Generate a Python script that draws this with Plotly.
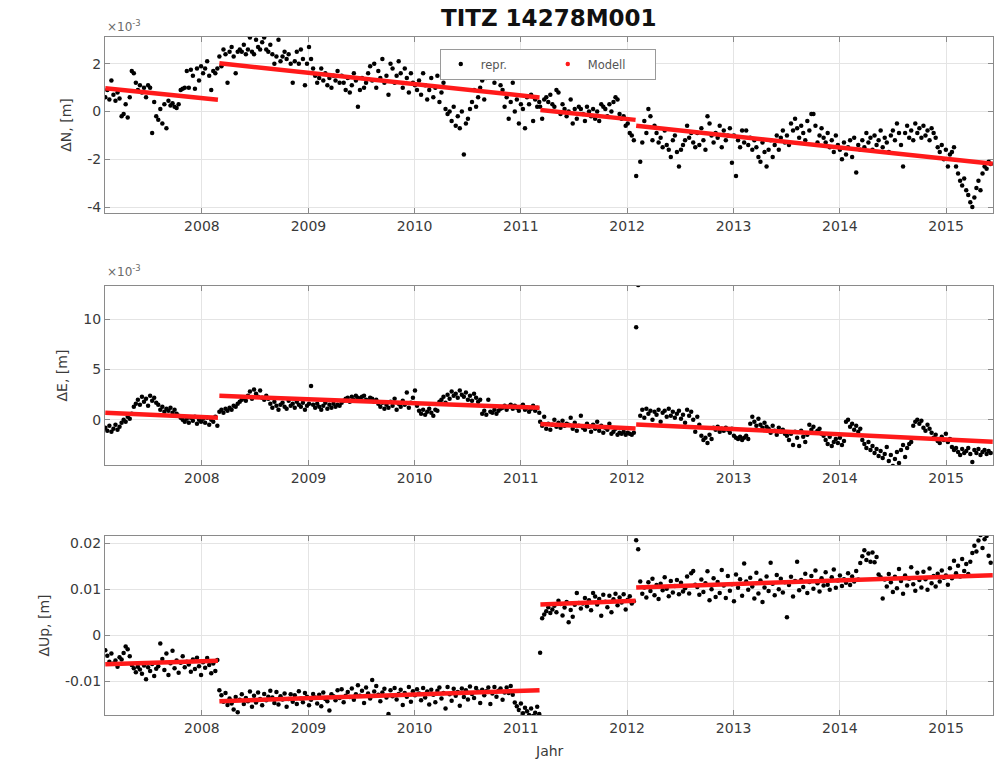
import numpy as np
import pandas as pd
import plotly.graph_objects as go

# ---------------- data ----------------
seg_starts = ['2007-02-03', '2008-03-01', '2011-03-08', '2012-02-01']

# ΔN (x1e-3 m), per segment
n_seg1 = [0.6, 0.9, 0.5, 1.3, 0.7, 0.45, 0.8, 0.55,
          -0.2, -0.1, 0.3, -0.25, 0.6, 1.7, 1.6,
          1.2, 0.9, 1.1, 0.8, 1.0, 0.6, 1.1, 1.0,
          -0.9,
          0.4, -0.2, -0.35, 0.1, -0.5,
          0.3, -0.7, 0.45, 0.25, 0.35, 0.2, 0.15, 0.3,
          0.9, 0.95, 1.0, 1.7, 1.0, 1.75, 1.5, 0.95, 1.8, 1.3, 1.9, 1.6,
          1.8, 2.1, 1.5, 0.9, 1.7, 1.6, 1.8]
n_seg2 = [2.3, 1.9, 2.6, 2.4, 1.2, 2.5, 2.7, 2.3, 1.6, 2.5, 2.6,
          2.5, 2.8, 2.4, 2.6, 3.1, 2.5, 2.4, 3.0, 2.7, 2.6, 2.9, 3.1, 2.6, 2.5, 2.8, 2.4, 2.0, 2.3, 3.0,
          2.1, 2.3, 2.5, 2.2, 2.4, 2.0, 1.2, 2.1, 2.5, 2.0,
          2.6, 2.2, 1.1, 2.0, 2.7, 2.2, 1.8,
          1.5, 1.2, 1.4, 1.8, 1.3, 1.6, 1.1, 1.4, 1.0, 1.5, 1.3, 1.7, 1.2,
          1.5, 1.2, 0.9, 1.4, 0.8, 1.1, 1.6, 1.3, 0.2, 0.9, 1.4, 1.0, 1.2,
          1.6, 1.9, 1.3, 2.0, 1.0, 1.7, 1.4, 2.2, 1.2, 1.5, 0.7, 2.0, 1.8, 1.2, 1.5, 2.1, 1.6,
          1.0, 1.8, 1.4, 0.8, 1.6, 1.2, 1.1, 0.9,
          1.3, 0.7, 1.6, 1.1, 0.5, 0.9, 1.4, 0.6, 1.0, 1.5, 0.4, 0.8, 1.2,
          0.1, -0.1, 0.0, -0.4, 0.2, -0.6, -0.2, -0.7, 0.0, -1.8, -0.5, -0.3, 0.1,
          0.4, 0.9, 0.2, 0.6, 1.0, 1.3, 0.5, 1.4,
          1.6, 1.8, 1.5, 1.2, 1.7, 1.4, 1.1, 0.9,
          0.2, 0.6, -0.3, 0.4, 1.2, 0.0, 0.5, -0.5, 0.3, 0.1, -0.7, 0.6, 0.3, 0.7, -0.4, 0.5, 0.2, 0.4]
n_seg3 = [0.2, -0.3, 0.5, 0.6, 0.4, 0.7, 0.3, 0.2, 0.9, 0.8, -0.1, 0.3, 0.1,
          -0.2, 0.0, 0.5, -0.5, 0.1, -0.3, 0.2, 0.1, -0.1, -0.4, 0.2, 0.0, -0.2, 0.1, -0.3, 0.0, -0.4, 0.3, 0.2,
          0.1, -0.2, 0.3, 0.0, 0.4, 0.6, 0.5, -0.1, -0.3, -0.2, -0.6, -0.5, -0.9, -1.0, -1.2]
n_seg4 = [-2.7, -4.4, -2.1, -1.3, -0.4, -0.9, 0.1,
          -0.2, -1.2, -0.6, -0.9, -1.3, -1.1, -1.5, -0.8, -1.4, -1.6, -1.9, -1.2, -1.0, -1.7,
          -2.3, -1.6, -1.4, -1.2, -0.6, -1.1, -0.9, -1.3, -1.5,
          -0.9, -1.4, -0.7, -1.2, -1.6, -0.2, -0.5, -1.0, -1.3, -0.9, -1.1, -0.6, -1.5, -0.8, -1.2, -1.0, -0.7,
          -2.15, -1.0, -2.7, -1.2, -1.5, -0.8, -1.3, -0.8, -1.4, -1.1, -1.6, -1.2,
          -1.5, -1.9, -2.1, -1.3, -1.7, -2.3, -1.6, -1.2, -1.9, -1.4, -1.0, -1.6, -1.1, -0.8, -1.3, -1.0, -1.4,
          -0.5, -0.8, -0.3, -0.7, -1.1, -0.6, -0.9, -1.2, -0.4, -0.8, -0.1, -0.1, -0.6, -1.3, -1.0, -0.7,
          -1.1, -1.3, -0.9, -1.5, -1.2, -1.7, -1.0, -1.4, -1.6, -2.0, -1.3, -1.8, -1.5, -1.2, -1.9, -1.1, -2.55, -1.4, -1.6,
          -1.2, -1.5, -0.9, -1.3, -1.1, -1.6, -1.0, -1.4, -1.2, -0.8, -1.5, -1.1, -1.3, -1.7, -1.0, -0.8, -1.2, -0.5, -0.9, -1.4,
          -2.3, -0.9, -0.6, -1.1, -0.8, -1.2, -0.5, -0.9, -0.7, -1.1, -0.6, -1.0, -0.8, -1.2, -0.7, -0.9, -1.1, -1.5, -1.7,
          -1.4, -2.0, -1.6, -2.3, -1.8, -1.7, -1.5,
          -2.3, -2.6, -2.9, -3.1, -2.8, -3.3, -3.5, -3.8, -4.0, -3.6, -3.2,
          -2.9, -3.3, -2.6, -2.3, -2.4, -2.1, -2.2]

# ΔE (x1e-3 m)
e_seg1 = [-0.8, -1.1, -0.6, -1.2, -0.9, -0.5, -1.0, -0.7, -0.3,
          0.0, -0.2, 0.3, 0.1, 0.6,
          1.3, 1.6, 2.0, 1.5, 2.3, 1.8, 2.1, 1.4, 2.4, 1.9, 2.2, 1.7, 1.5,
          1.0, 1.3, 0.8, 1.1, 0.9, 1.2, 0.7, 1.0, 0.6, 0.4,
          0.2, 0.0, -0.2, 0.1, -0.3, 0.2, -0.1, 0.3, -0.4, 0.0, -0.2, 0.1, -0.3, 0.2, -0.5, 0.0, -0.2, 0.3, -0.6]
e_seg2 = [0.8, 1.0, 0.7, 1.1, 0.9, 1.2, 1.0, 1.4, 1.3, 1.6, 1.8,
          2.0, 2.2, 1.9, 2.4, 2.8, 2.1, 3.0, 2.6, 2.3, 2.9, 2.2, 2.0, 2.4, 2.1,
          1.6, 1.2, 1.8, 1.4, 1.0, 1.5, 1.7, 1.3, 1.1, 1.9, 1.4, 1.6, 1.2, 1.8, 1.5, 1.3, 1.7, 1.0, 1.4, 1.6,
          3.35,
          1.5, 1.2, 1.6, 1.3, 1.0, 1.4, 1.7, 1.1, 1.5, 1.2, 1.6, 1.3, 1.5, 1.4, 1.7,
          1.9, 2.1, 2.2, 1.8, 2.3, 2.0, 2.4, 2.2, 2.1, 2.3, 2.4, 2.0, 1.9, 2.2, 2.1, 1.8, 2.0,
          1.6, 1.3, 1.7, 1.1, 1.5, 1.2, 1.8, 1.4, 2.1, 1.0, 1.6, 1.3, 1.9, 1.5, 2.7, 1.2, 1.7, 2.2, 2.9, 1.4,
          0.9, 0.6, 1.0, 0.5, 0.8, 1.1, 0.7, 0.4, 1.0, 0.9,
          1.8, 2.0, 2.3, 1.7, 2.5, 2.1, 2.8, 2.4, 2.6, 2.2, 2.9, 2.5, 2.3, 2.7, 2.0, 2.4, 1.9, 2.6, 2.2, 1.8, 2.0,
          0.6, 0.9, 0.5, 2.0, 0.8, 0.7, 1.0, 0.6, 0.9, 1.1,
          1.2, 1.4, 1.0, 1.3, 1.5, 1.1, 1.4, 1.2, 0.9, 1.3, 1.5, 1.0, 1.2, 0.8, 1.1, 1.4, 0.9, 1.2, 0.7]
e_seg3 = [-0.2, -0.6, 0.3, -0.9, -0.4, -1.0, -0.5, 0.0, -0.7, -0.3, -0.8, -0.1, -0.6, -0.4,
          -0.5, 0.2, -0.9, -0.3, -1.1, -0.6, 0.4, -0.8, -1.0, -0.4, -0.7, -1.2, -0.5, -0.9, -0.2,
          -1.1, -0.6, -1.3, -0.8, -1.0, -0.4, -1.4, -1.2, -0.9, -1.5, -1.3, -1.4, -1.2, -1.5, -1.3,
          -1.4, -1.5, -1.3]
e_seg4 = [9.2, 13.4,
          0.4, 1.0, 0.2, 1.1, 0.6, 0.9, 0.0, 0.8,
          0.5, 1.0, -0.2, 0.7, 0.9, 0.3, 1.1, 0.4, 0.8, 0.2, 0.6, 0.9, 0.1,
          0.5, -0.3, 1.0, 0.4, 0.8, 0.0, -1.2, 0.3, -0.5,
          -1.6, -2.0, -1.8, -2.3, -1.5, -1.9,
          -0.8, -1.0, -0.7, -1.2, -0.9, -1.1, -0.8, -1.0, -1.3, -0.9, -1.6, -1.8,
          -1.9, -1.7, -2.0, -1.8, -1.6, -1.9,
          -0.4, 0.3, -0.2, -0.6, 0.1, -0.5, -0.8, -0.3, -0.7,
          -0.9, -1.3, -0.6, -1.1, -1.5, -0.8, -1.2, -1.0, -1.4, -1.6,
          -2.0, -1.4, -2.5, -1.2, -1.8, -2.6, -1.1, -1.7, -2.2, -1.5,
          -0.5, -1.0, -0.7, -1.3, -1.1, -0.9, -1.4, -1.6,
          -2.0, -2.4, -1.7, -2.6, -2.2, -1.9, -2.3, -1.8, -2.5, -2.1,
          -0.2, 0.0, -0.7, -0.4, -1.0, -0.6, -1.2, -0.9,
          -2.0, -2.4, -2.8, -2.2, -3.0, -2.6, -3.3, -2.9, -3.6, -3.1, -3.8, -3.4, -2.7, -4.1, -3.5, -4.6,
          -3.9, -3.2, -4.3, -3.0, -2.5, -3.7, -2.8,
          -2.4, -2.2, -0.6, -0.2, 0.0, -0.4,
          -0.1, -0.8, -1.1, -0.5, -0.9,
          -1.3, -1.8, -1.5, -2.1, -2.3, -1.7, -2.0, -1.4, -2.2, -1.9,
          -2.7, -3.0, -2.8, -3.2, -3.5, -2.9, -3.3, -3.1, -2.8, -3.4, -4.2, -3.0, -3.3, -2.9, -3.5, -3.2,
          -3.0, -3.4, -3.1, -3.3]

# ΔUp (x1e-3 m)
u_seg1 = [-3.3, -4.5, -5.8, -4.0, -6.2, -5.5, -6.9, -4.8, -5.3, -3.9, -2.5, -3.1, -4.6,
          -6.5, -7.2, -8.1, -6.9, -7.5, -8.4, -6.6, -9.6, -7.0, -7.8, -6.3, -8.9, -7.3, -6.8, -1.8,
          -5.2, -7.6, -4.0, -8.7, -6.1, -3.4, -7.2, -5.5, -8.2, -6.0, -4.6, -7.0, -5.8,
          -6.4, -8.0, -5.3, -7.4, -4.9, -6.8, -8.7, -5.9, -7.1, -5.0, -6.5, -8.3, -6.2, -7.8, -5.4]
u_seg2 = [-12.0, -13.1, -14.5, -12.6, -15.2, -13.8, -14.9, -16.2, -13.5, -16.8, -14.1, -12.9, -15.0,
          -13.7, -14.4, -12.3, -15.6, -13.2, -14.7, -12.5, -13.9, -15.3, -12.8, -14.2, -13.4, -12.1,
          -13.6, -14.8, -12.4, -15.1, -13.3, -14.0, -12.7, -15.6, -13.9, -12.9, -14.5, -13.1, -15.0,
          -12.2, -13.8, -14.6, -12.6, -13.4, -15.3, -14.1, -12.8, -13.6, -14.9, -13.0, -15.5, -12.5,
          -13.9, -14.4, -16.4, -12.9, -13.3, -14.2, -12.0, -13.7, -11.8, -14.6, -13.2,
          -12.4, -13.5, -11.6, -14.1, -12.9, -10.9, -13.2, -12.1, -14.8, -11.4, -12.7, -13.8, -9.8,
          -12.3, -11.1, -13.0, -14.4, -12.5, -11.7, -13.6, -17.2, -12.0, -13.3, -11.5, -14.0, -12.8,
          -11.9, -15.2, -12.6, -13.4, -11.3, -14.5, -12.2, -13.1, -11.8,
          -12.7, -14.2, -11.5, -13.6, -12.3, -15.1, -11.9, -13.0, -14.6, -12.1, -11.4, -13.8, -12.6,
          -16.0, -11.3, -12.9, -14.3, -11.7, -13.2, -12.4, -15.4, -11.6, -13.5, -12.0, -14.0, -11.2,
          -12.8, -13.7, -11.5, -12.3, -14.8, -11.9, -13.1, -12.2, -11.4, -15.0, -12.7, -11.3, -13.4,
          -12.1, -11.6, -14.1, -12.5,
          -11.4, -12.6, -11.1, -13.0, -14.7, -15.5, -16.3, -14.9, -17.0, -15.8, -16.6, -17.4, -16.0,
          -17.6, -16.9, -15.6, -17.2]
u_seg3 = [-3.85,
          3.7, 4.5, 5.2, 6.1, 4.8, 5.6, 6.4, 5.0,
          7.5, 6.8, 4.3, 6.0, 7.2, 2.8, 5.5, 4.0, 6.6,
          9.2, 7.0, 5.8, 6.9, 8.1, 6.3, 7.6, 5.4, 9.2, 8.4, 6.7, 7.9, 4.2, 8.8, 7.3, 6.1, 8.6, 5.0,
          7.8, 9.0, 6.5, 8.2, 7.1, 8.9, 5.6, 7.7, 8.5, 6.9, 7.4]
u_seg4 = [20.7, 18.7, 11.7,
          9.0, 10.4, 8.2, 11.5, 9.6, 12.3, 8.7, 10.9, 7.9, 11.2, 9.8, 12.6, 10.1, 8.5, 11.8, 9.3,
          10.7, 12.0, 8.9, 11.4, 9.5, 10.2, 12.8, 9.1, 13.5, 14.0, 11.0,
          10.5, 8.8, 12.1, 9.4, 11.3, 13.9, 7.6, 10.0, 12.4, 8.3, 11.6, 9.2, 14.2, 10.8, 8.1, 12.9,
          9.7, 11.1, 7.4, 13.2, 10.3, 12.2, 8.6, 15.6, 11.7, 9.9,
          12.5, 10.6, 8.0, 13.6, 9.1, 11.9, 7.2, 10.4, 12.8, 9.6, 15.8, 11.2, 8.7, 13.1, 10.0, 12.3,
          9.3, 11.5, 3.9, 10.9, 12.7, 8.4, 11.8, 16.0, 9.8,
          12.0, 10.5, 13.4, 9.2, 11.6, 12.9, 10.1, 14.1, 11.3, 9.5, 12.4, 10.8, 13.7, 11.0, 9.9,
          12.6, 14.3, 10.3, 11.9, 13.0, 10.7, 12.2, 11.4, 13.5, 10.9, 12.8, 11.7, 14.0, 12.1,
          15.7, 17.2, 18.5, 16.4, 17.8, 16.0, 18.0, 15.9, 17.0, 13.2, 12.6,
          8.0, 12.1, 10.6, 13.3, 11.5, 9.4, 12.7, 10.2, 14.4, 11.8, 9.0, 13.0, 10.8, 12.3, 14.8,
          11.1, 9.7, 13.6, 12.0,
          10.4, 13.8, 12.2, 9.9, 14.5, 11.3, 12.9, 10.6, 13.4, 11.7, 14.1, 12.5, 13.0, 11.0,
          14.6, 12.4, 16.2, 13.5, 15.1, 12.8, 16.6, 14.0, 15.5, 13.3, 16.0,
          17.9, 19.5, 18.2, 20.6, 21.8, 19.0, 20.9, 21.6, 17.3, 15.8]

# model segments (start/end dates and values)
model_start = ['2007-02-03', '2008-03-01', '2011-03-09', '2012-02-01']
model_end = ['2008-02-25', '2011-03-06', '2012-01-30', '2015-06-10']
n_model_start = [0.97, 2.02, 0.06, -0.60]
n_model_end = [0.49, 0.59, -0.35, -2.19]
e_model_start = [0.70, 2.38, -0.43, -0.46]
e_model_end = [0.20, 1.19, -0.86, -2.18]
u_model_start = [-6.32, -14.38, 6.68, 10.39]
u_model_end = [-5.60, -11.98, 7.47, 13.07]

year_ticks = ['2008', '2009', '2010', '2011', '2012', '2013', '2014', '2015']

# ---------------- build ----------------
def series(segs):
    xs, ys = [], []
    for start, vals in zip(seg_starts, segs):
        d = pd.date_range(start, periods=len(vals), freq='7D')
        xs.extend(list(d))
        ys.extend(vals)
    return xs, ys

def model_xy(s_vals, e_vals):
    xs, ys = [], []
    for s, e, a, b in zip(model_start, model_end, s_vals, e_vals):
        xs += [s, e, None]
        ys += [a, b, None]
    return xs, ys

panels = [
    ([n_seg1, n_seg2, n_seg3, n_seg4], n_model_start, n_model_end, 1.0),
    ([e_seg1, e_seg2, e_seg3, e_seg4], e_model_start, e_model_end, 1.0),
    ([u_seg1, u_seg2, u_seg3, u_seg4], u_model_start, u_model_end, 1e-3),
]

fig = go.Figure()
for k, (segs, ms, me, scale) in enumerate(panels, start=1):
    xs, ys = series(segs)
    mx, my = model_xy(ms, me)
    ax = '' if k == 1 else str(k)
    fig.add_trace(go.Scatter(x=xs, y=np.array(ys) * scale, mode='markers',
                             marker=dict(color='black', size=4.5),
                             name='repr.', showlegend=(k == 1),
                             xaxis='x' + ax, yaxis='y' + ax))
    fig.add_trace(go.Scatter(x=mx, y=[None if v is None else v * scale for v in my],
                             mode='lines', line=dict(color='#ff1a1a', width=4.5),
                             name='Modell', showlegend=False,
                             xaxis='x' + ax, yaxis='y' + ax))

fig.add_trace(go.Scatter(x=[None], y=[None], mode='markers',
                         marker=dict(color='#ff1a1a', size=4.5), name='Modell'))

axis_col = '#8a8a8a'
font_col = '#3a3a3a'
xcommon = dict(type='date', range=['2007-02-02', '2015-06-11'],
               tickvals=[y + '-01-01' for y in year_ticks], ticktext=year_ticks,
               showgrid=True, gridcolor='#e4e4e4', gridwidth=1,
               showline=True, linecolor=axis_col, linewidth=1, mirror='ticks',
               ticks='inside', ticklen=5, tickcolor=axis_col, automargin=False,
               tickfont=dict(size=14, color=font_col), zeroline=False)
ycommon = dict(showgrid=True, gridcolor='#e4e4e4', gridwidth=1,
               showline=True, linecolor=axis_col, linewidth=1, mirror='ticks',
               ticks='inside', ticklen=5, tickcolor=axis_col, automargin=False,
               tickfont=dict(size=14, color=font_col), zeroline=False,
               title=dict(font=dict(size=14, color=font_col), standoff=12))

fig.update_layout(
    width=1000, height=763,
    margin=dict(l=105, r=7, t=37, b=48, autoexpand=False),
    paper_bgcolor='white', plot_bgcolor='white',
    font=dict(family='DejaVu Sans', color=font_col),
    xaxis=dict(xcommon, anchor='y'),
    xaxis2=dict(xcommon, anchor='y2', matches='x'),
    xaxis3=dict(xcommon, anchor='y3', matches='x'),
    yaxis=dict(ycommon, domain=[0.7404, 1.0], range=[-4.25, 3.12],
               tickvals=[-4, -2, 0, 2], ticktext=['-4', '-2', '0', '2'],
               title=dict(ycommon['title'], text='ΔN, [m]')),
    yaxis2=dict(ycommon, domain=[0.3687, 0.6327], range=[-4.5, 13.3],
                tickvals=[0, 5, 10], ticktext=['0', '5', '10'],
                title=dict(ycommon['title'], text='ΔE, [m]')),
    yaxis3=dict(ycommon, domain=[0.0, 0.264], range=[-0.0174, 0.0216],
                tickvals=[-0.01, 0, 0.01, 0.02], ticktext=['-0.01', '0', '0.01', '0.02'],
                title=dict(ycommon['title'], text='ΔUp, [m]')),
    legend=dict(orientation='h', x=0.377, y=0.983, xanchor='left', yanchor='top',
                bgcolor='white', bordercolor='#9a9a9a', borderwidth=1,
                font=dict(size=11.5, color='#555555'),
                entrywidth=62, entrywidthmode='pixels'),
    annotations=[
        dict(text='<b>TITZ 14278M001</b>', x=0.5, y=1.028, xref='paper', yref='paper',
             xanchor='center', yanchor='middle', showarrow=False,
             font=dict(family='DejaVu Sans', size=23, color='#111111')),
        dict(text='×10<sup>-3</sup>', x=0.0, y=1.0155, xref='paper', yref='paper',
             xanchor='left', yanchor='middle', showarrow=False,
             font=dict(size=12, color='#6a6a6a')),
        dict(text='×10<sup>-3</sup>', x=0.0, y=0.6555, xref='paper', yref='paper',
             xanchor='left', yanchor='middle', showarrow=False,
             font=dict(size=12, color='#6a6a6a')),
        dict(text='Jahr', x=0.5, y=-0.053, xref='paper', yref='paper',
             xanchor='center', yanchor='middle', showarrow=False,
             font=dict(size=14, color=font_col)),
    ],
)

fig.write_html('out.html',
               config={'displayModeBar': False},
               post_script="document.body.style.margin='0px';"
                           "document.body.style.overflow='hidden';")
